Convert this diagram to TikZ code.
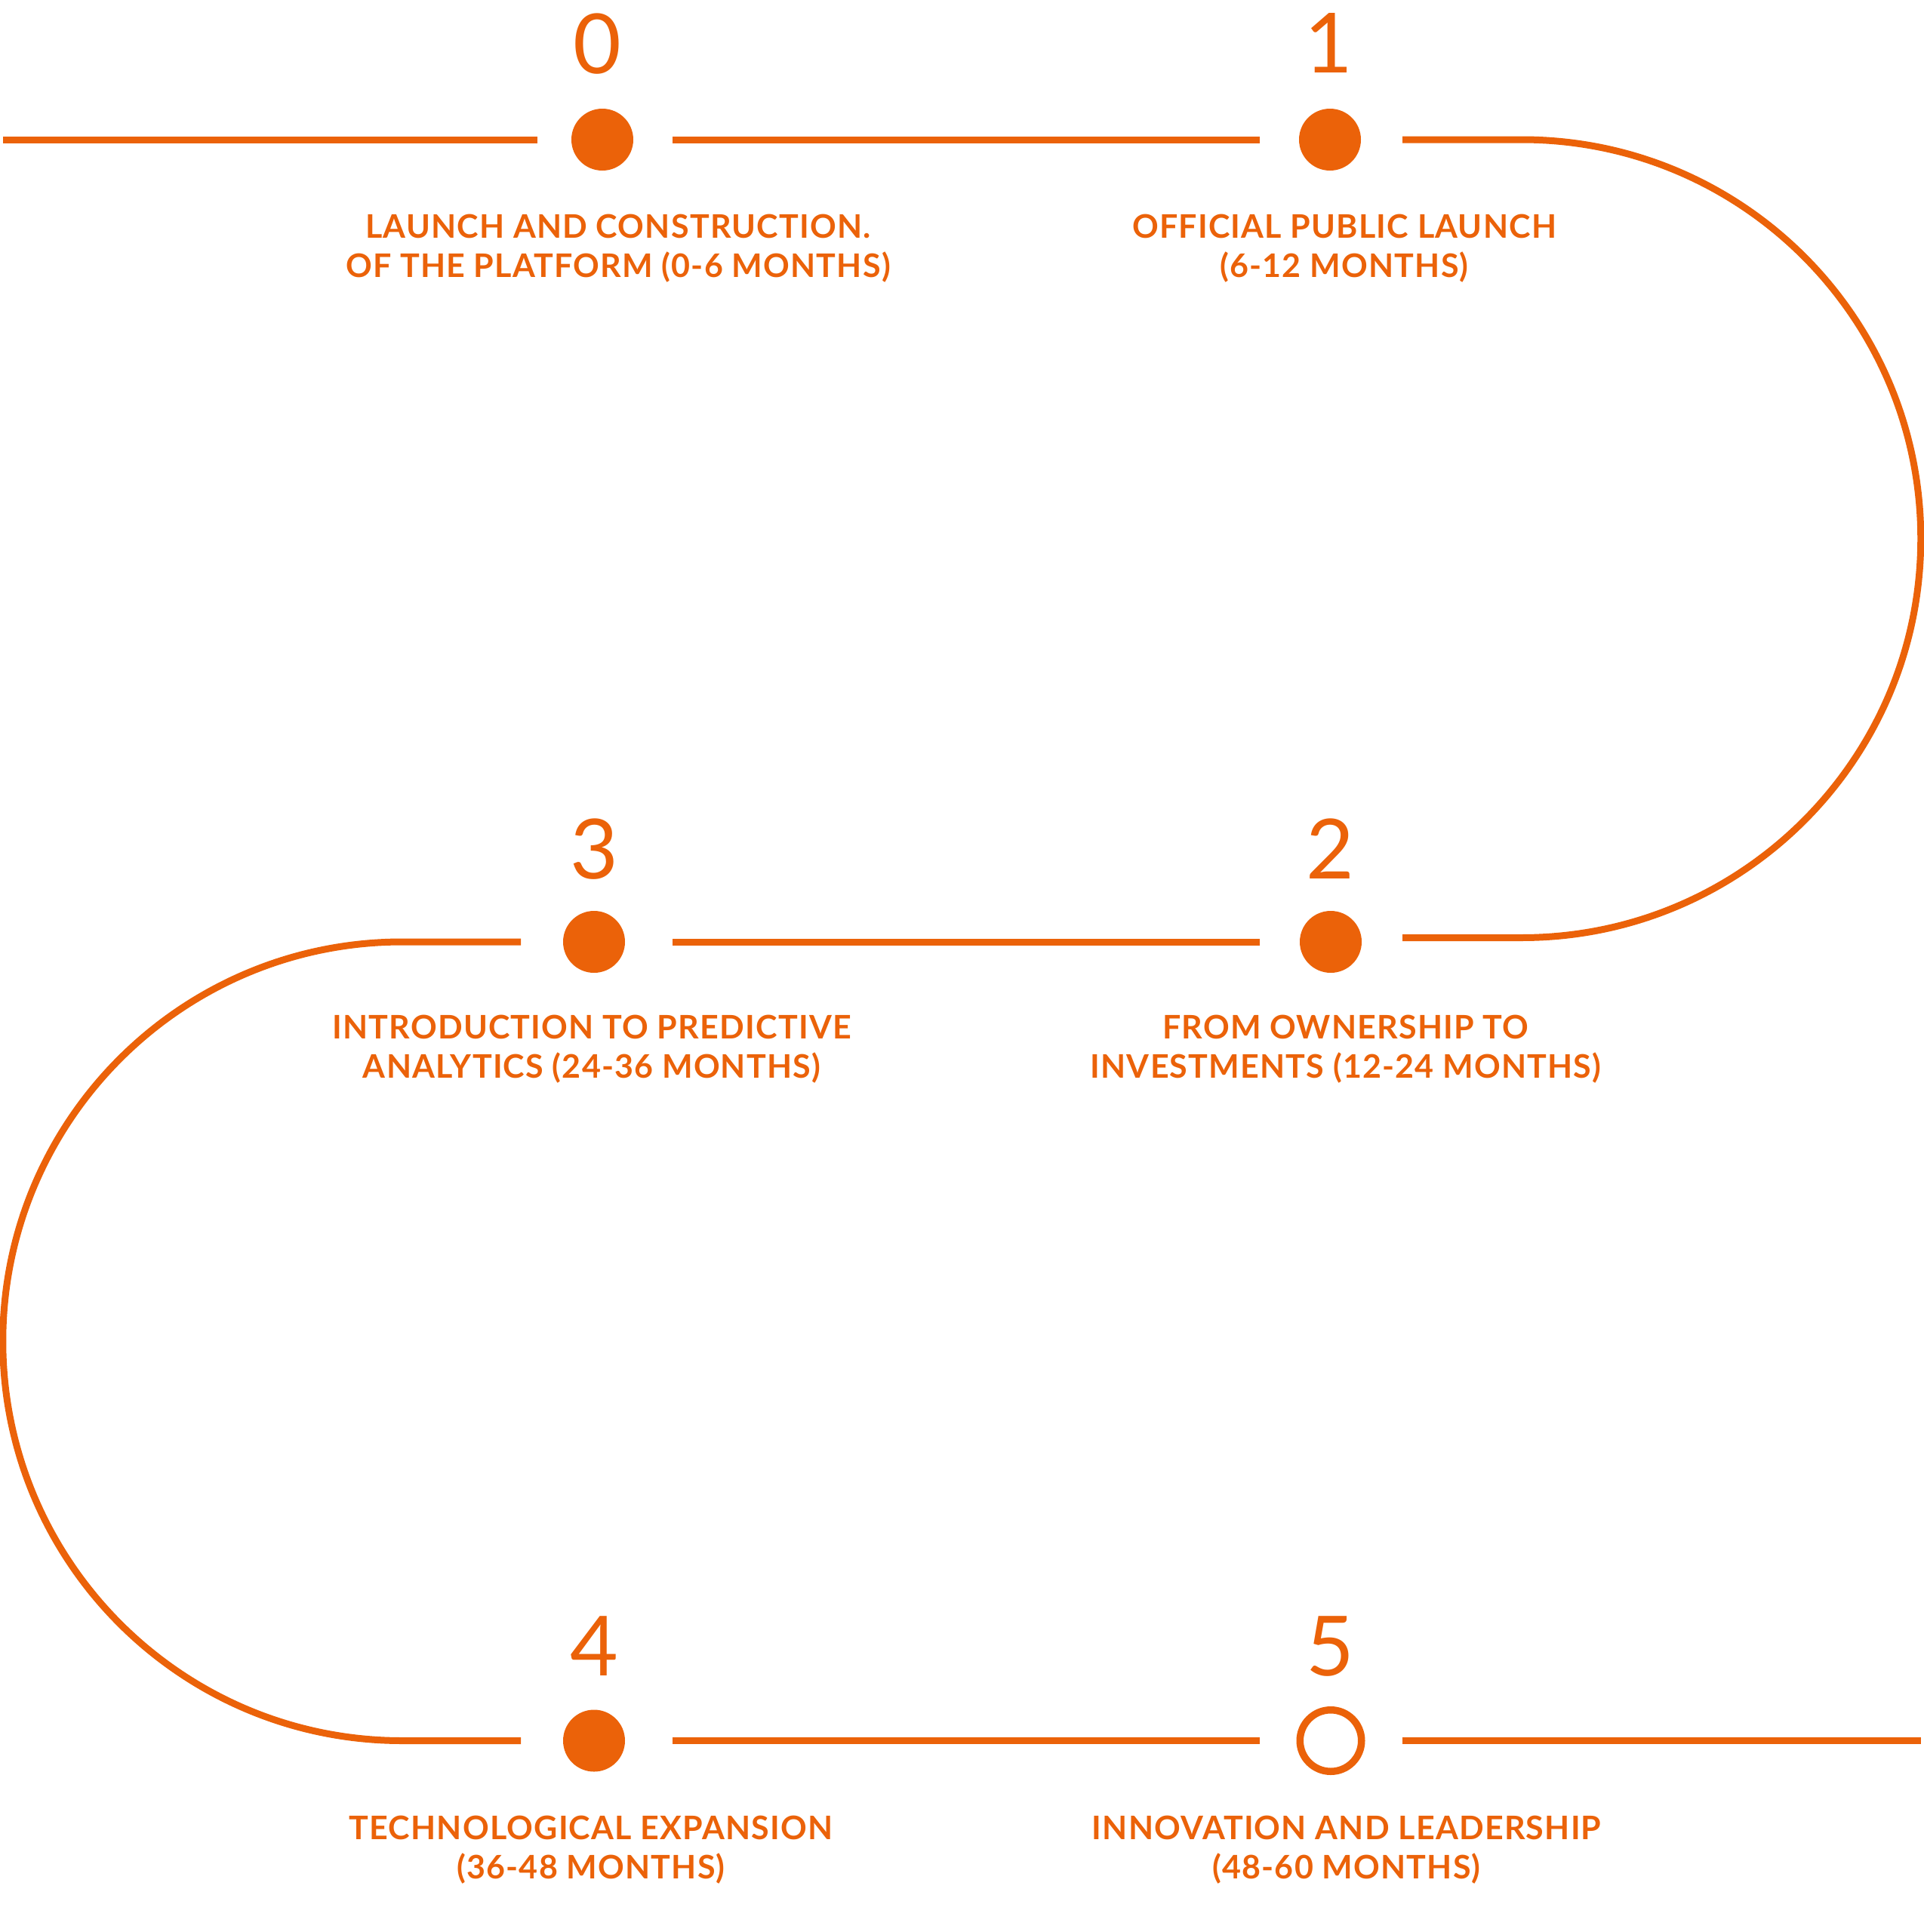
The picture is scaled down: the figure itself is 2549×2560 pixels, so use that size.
\documentclass[tikz,border=0pt]{standalone}
\usepackage{fontspec}
\setmainfont{Lato}
\newfontfamily\labfont[LetterSpace=2.8]{Lato}
\definecolor{org}{HTML}{EB6209}
\begin{document}
\begin{tikzpicture}[x=0.3pt,y=-0.3pt,
  seg/.style={draw=org, line width=2.7pt},
  dot/.style={circle, fill=org, minimum size=24.6pt, inner sep=0pt, outer sep=0pt},
  ring/.style={circle, draw=org, line width=2.85pt, minimum size=24.45pt, inner sep=0pt, outer sep=0pt},
  num/.style={text=org, font=\fontsize{33}{33}\selectfont, anchor=base, inner sep=0pt},
  lab/.style={text=org, font=\labfont\bfseries\fontsize{12.9}{15.8}\selectfont, align=center, anchor=north, inner sep=0pt}]
\useasboundingbox (0,0) rectangle (2549,2560);
\fill[white] (0,0) rectangle (2549,2560);

% milestone dots
\node[dot] (c0) at (798,185) {};
\node[dot] (c1) at (1762,185) {};
\node[dot] (c2) at (1763,1248) {};
\node[dot] (c3) at (787,1248) {};
\node[dot] (c4) at (787,2306.5) {};
\node[ring] (c5) at (1763,2306.5) {};

% free ends and arc tangent points
\coordinate (s0) at (4,185);
\coordinate (rt) at (2016,185);
\coordinate (rb) at (1858,1242.5);
\coordinate (lt) at (533,1248);
\coordinate (e5) at (2545,2306.5);

% connectors
\draw[seg, shorten >=13.5pt] (s0) -- (c0);
\draw[seg, shorten <=15.6pt, shorten >=15.6pt] (c0) -- (c1);
\draw[seg, shorten <=16.5pt] (c1) -- (rt) arc[start angle=90, end angle=-90, radius=158.625pt] -- (rb);
\draw[seg, shorten <=15.9pt, shorten >=18.9pt] (c2) -- (c3);
\draw[seg, shorten <=16.8pt, shorten >=16.8pt] (c3) -- (lt) arc[start angle=90, end angle=270, radius=158.775pt] -- (c4);
\draw[seg, shorten <=18.9pt, shorten >=15.9pt] (c4) -- (c5);
\draw[seg, shorten <=16.2pt] (c5) -- (e5);

% numbers
\node[num] (n0) at (791,97) {0};
\node[num] (n1) at (1760,96) {1};
\node[num] (n2) at (1762,1164) {2};
\node[num] (n3) at (787,1164) {3};
\node[num] (n4) at (787,2220) {4};
\node[num] (n5) at (1762,2220) {5};

% labels
\node[lab] (l0) at (819,283) {LAUNCH AND CONSTRUCTION.\\OF THE PLATFORM (0-6 MONTHS)};
\node[lab] (l1) at (1781,283) {OFFICIAL PUBLIC LAUNCH\\(6-12 MONTHS)};
\node[lab] (l2) at (1783,1344) {FROM OWNERSHIP TO\\INVESTMENTS (12-24 MONTHS)};
\node[lab] (l3) at (784,1344) {INTRODUCTION TO PREDICTIVE\\ANALYTICS (24-36 MONTHS)};
\node[lab] (l4) at (783,2405) {TECHNOLOGICAL EXPANSION\\(36-48 MONTHS)};
\node[lab] (l5) at (1784,2405) {INNOVATION AND LEADERSHIP\\(48-60 MONTHS)};
\end{tikzpicture}
\end{document}
